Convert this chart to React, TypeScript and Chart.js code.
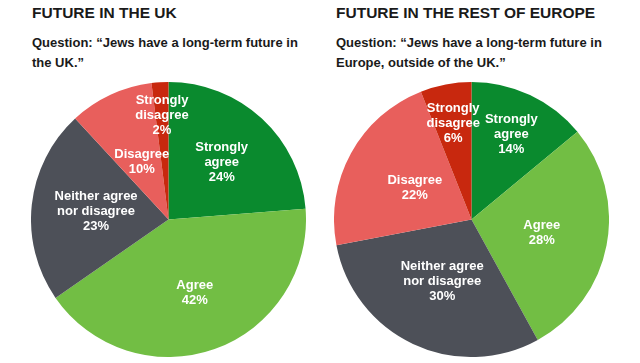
import React, { useEffect, useRef } from "react";
import { Chart, registerables } from "chart.js";
Chart.register(...registerables);

const categories = ["Strongly agree", "Agree", "Neither agree nor disagree", "Disagree", "Strongly disagree"];
const labelLines = [["Strongly", "agree"], ["Agree"], ["Neither agree", "nor disagree"], ["Disagree"], ["Strongly", "disagree"]];
const ukValues = [24, 42, 23, 10, 2];
const europeValues = [14, 28, 30, 22, 6];
const sliceColors = ["#0a8a2e", "#72be44", "#4d5058", "#e85f5c", "#c8280e"];

const ukRadial = [0.57, 0.57, 0.53, 0.46, 0.76];
const euRadial = [0.68, 0.52, 0.5, 0.47, 0.71];

const labelPlugin = {
  id: "sliceLabels",
  afterDatasetsDraw(chart: any, _args: any, opts: any) {
    const ctx = chart.ctx;
    const meta = chart.getDatasetMeta(0);
    const values = chart.data.datasets[0].data;
    const radial: number[] = opts.radial || [];
    ctx.save();
    ctx.fillStyle = "#ffffff";
    ctx.font = "bold 13px 'Liberation Sans', Arial, sans-serif";
    ctx.textAlign = "center";
    ctx.textBaseline = "middle";
    meta.data.forEach((arc: any, i: number) => {
      const { x, y, startAngle, endAngle, outerRadius } = arc.getProps(["x", "y", "startAngle", "endAngle", "outerRadius"], true);
      const mid = (startAngle + endAngle) / 2;
      const r = outerRadius * (radial[i] ?? 0.6);
      const cx = x + Math.cos(mid) * r;
      const cy = y + Math.sin(mid) * r;
      const lines = [...labelLines[i], values[i] + "%"];
      const lh = 15;
      const start = cy - ((lines.length - 1) * lh) / 2;
      lines.forEach((ln, k) => ctx.fillText(ln, cx, start + k * lh));
    });
    ctx.restore();
  },
};

function Pie({ values, radial, left }: { values: number[]; radial: number[]; left: number }) {
  const ref = useRef<HTMLCanvasElement>(null);
  useEffect(() => {
    const chart = new Chart(ref.current!, {
      type: "pie",
      data: {
        labels: categories,
        datasets: [{ data: values, backgroundColor: sliceColors, borderWidth: 0 }],
      },
      options: {
        animation: false,
        responsive: false,
        maintainAspectRatio: false,
        layout: { padding: 0 },
        plugins: { legend: { display: false }, tooltip: { enabled: false }, sliceLabels: { radial } } as any,
      },
      plugins: [labelPlugin],
    });
    return () => chart.destroy();
  }, []);
  return (
    <canvas ref={ref} width={275} height={275} style={{ position: "absolute", left, top: 82, width: 275, height: 275 }} />
  );
}

const titleStyle: React.CSSProperties = {
  position: "absolute",
  fontFamily: "'Liberation Sans', Arial, sans-serif",
  fontWeight: "bold",
  fontSize: 15.5,
  color: "#1a1a1a",
  top: 4,
  margin: 0,
  whiteSpace: "nowrap",
};
const subStyle: React.CSSProperties = {
  position: "absolute",
  fontFamily: "'Liberation Sans', Arial, sans-serif",
  fontWeight: "bold",
  fontSize: 13,
  lineHeight: "20px",
  color: "#1a1a1a",
  top: 33,
  margin: 0,
};

export default function App() {
  return (
    <div style={{ position: "absolute", left: 0, top: 0, width: 640, height: 363, background: "#ffffff", overflow: "hidden" }}>
      <div style={{ ...titleStyle, left: 32 }}>FUTURE IN THE UK</div>
      <div style={{ ...subStyle, left: 32, width: 280 }}>Question: “Jews have a long-term future in<br />the UK.”</div>
      <div style={{ ...titleStyle, left: 336 }}>FUTURE IN THE REST OF EUROPE</div>
      <div style={{ ...subStyle, left: 336, width: 290 }}>Question: “Jews have a long-term future in<br />Europe, outside of the UK.”</div>
      <Pie values={ukValues} radial={ukRadial} left={31} />
      <Pie values={europeValues} radial={euRadial} left={334} />
    </div>
  );
}
